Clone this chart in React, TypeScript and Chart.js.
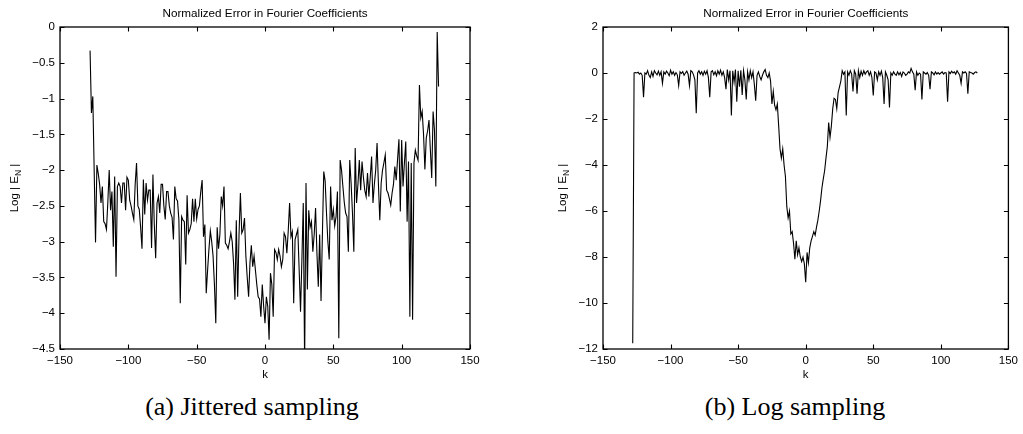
import React, { useEffect, useRef } from "react";
import { Chart, registerables } from "chart.js";
Chart.register(...registerables);

// k runs from K_FIRST to K_LAST (256 Fourier coefficients)
const K_FIRST = -128;
const K_LAST = 127;

// (a) Jittered sampling: log10 |E_N| for k = -128 .. 127
const jitteredError: number[] = [
  -0.33, -1.2, -0.97, -2.0, -3.01, -1.93, -2.05, -2.2, -2.46, -2.23,
  -2.72, -2.75, -2.83, -2.45, -2.0, -2.56, -2.3, -3.07, -2.09, -3.49,
  -2.23, -2.18, -2.23, -2.46, -2.18, -2.18, -2.56, -2.1, -2.14, -2.42,
  -2.5, -2.6, -2.69, -2.2, -1.9, -2.5, -2.55, -2.8, -3.1, -2.13,
  -2.62, -2.18, -2.42, -2.28, -2.28, -3.09, -2.06, -2.76, -3.23, -2.46,
  -2.37, -2.6, -2.2, -2.2, -2.5, -2.69, -2.3, -2.3, -2.5, -2.6,
  -2.66, -2.97, -2.23, -2.4, -2.43, -2.7, -3.86,
  -2.65, -2.7, -2.72, -3.32, -2.35, -2.88, -2.83, -2.75, -2.4, -2.72,
  -2.4, -2.68, -2.55, -2.5, -2.3, -2.14, -2.93, -2.76, -3.72, -3.4,
  -3.1, -2.85, -3.0, -3.2, -3.6, -4.14, -2.8, -3.1, -2.9, -2.37,
  -2.5, -2.23, -3.02, -3.05, -3.1, -3.0, -2.88, -3.0, -3.3, -3.81,
  -2.7, -3.77, -2.9, -2.32, -2.88, -2.83, -2.67, -3.2, -3.5, -3.77,
  -3.3, -3.05, -3.35, -3.2, -3.4, -3.6, -3.77, -3.8, -4.05, -3.6,
  -3.9, -4.14, -3.77, -3.9, -4.37, -3.44, -3.6,
  -4.05, -3.11, -3.15, -3.25, -3.11, -3.2, -3.35, -3.25, -2.88, -2.93,
  -3.16, -2.85, -2.46, -2.93, -2.86, -3.86, -2.97, -2.9, -2.83, -3.4,
  -3.98, -3.25, -2.46, -4.7, -2.18, -3.67, -2.56, -2.8, -2.72, -3.14,
  -2.9, -2.53, -3.16, -3.63, -2.9, -3.83, -2.9, -2.02, -2.15, -2.6,
  -3.0, -3.25, -2.23, -2.7, -2.55, -2.78, -2.65, -2.3, -4.35, -1.86,
  -2.0, -2.23, -2.45, -2.6, -2.65, -3.14, -1.86, -2.18, -2.6, -3.14,
  -1.69, -2.46, -2.2, -1.86, -2.28, -1.88, -2.1, -2.28, -2.37,
  -2.04, -2.37, -2.1, -1.81, -2.46, -2.2, -2.0, -1.62, -2.2, -2.7,
  -2.18, -2.0, -1.9, -1.79, -2.28, -2.32, -2.4, -2.49, -2.32, -2.2,
  -1.95, -2.14, -1.85, -1.57, -2.58, -1.58, -2.23, -1.9, -1.6, -2.72,
  -1.88, -4.05, -1.9, -4.09, -1.9, -1.72, -1.8, -1.86, -0.81, -1.27,
  -1.18, -1.5, -1.99, -1.55, -1.45, -1.3, -1.72, -2.11, -1.18, -1.44,
  -2.23, -0.07, -0.83,
];

// (b) Log sampling: log10 |E_N| for k = -128 .. 127
const logSamplingError: number[] = [
  -11.75, 0.0, 0.02, 0.0, 0.03, -0.05, 0.0, -0.1, -1.05, 0.0,
  -0.05, 0.1, -0.1, -0.2, 0.05, -0.15, 0.1, 0.0, -0.08, 0.08,
  -0.1, 0.05, -0.45, 0.05, -0.05, 0.08, 0.0, -0.12, 0.12, -0.05,
  0.05, -0.1, 0.02, -0.08, -0.55, 0.05, -0.02, 0.06, -0.1, 0.0,
  0.08, -0.05, -0.55, 0.1, 0.05, -0.08, -0.3, -1.75, 0.0, 0.1,
  -0.05, 0.05, -0.1, 0.08, -0.05, 0.1, -0.2, -1.05, 0.05, 0.1,
  -0.08, 0.05, -0.12, 0.1, -0.05, 0.12, -0.1, 0.05, -0.2, -0.7,
  0.15, -0.3, 0.1, -1.85, 0.1, -0.4, 0.15, -1.25, 0.1, -0.6,
  0.12, -0.95, 0.1, -0.3, -1.15, 0.05, -0.3, 0.1, -0.2, 0.05,
  -0.5, -1.2, -0.1, 0.05, -0.15, -0.3, -0.1, 0.05, 0.15, -0.1,
  -0.2, 0.0, -0.35, -1.35, -0.8, -1.4, -1.6, -1.35, -2.3, -3.3,
  -3.7, -3.3, -4.0, -4.5, -5.8, -6.3, -6.0, -7.0, -6.9, -7.4,
  -8.1, -7.3, -7.9, -7.6, -8.0, -8.2, -8.0, -8.3, -9.1, -7.8,
  -8.25, -7.6, -7.3, -7.1, -6.9, -7.05, -6.7, -6.4, -6.0, -5.55,
  -5.0, -4.6, -4.25, -3.7, -3.2, -2.15, -2.8, -2.3, -1.55, -1.1,
  -1.15, -1.55, -0.85, -0.6, -0.35, 0.1, -0.05, 0.05, -1.85, 0.05,
  -0.1, 0.1, -0.05, -0.8, 0.1, -0.05, -0.9, 0.1, -0.2, 0.08,
  -0.1, 0.1, -0.05, 0.05, 0.1, -0.1, 0.05, -0.2, -0.98, 0.05,
  0.0, -0.3, 0.05, -0.1, 0.08, -0.2, -1.35, 0.05, -0.1, -0.3,
  -1.5, 0.0, -0.1, 0.05, -0.05, -0.1, 0.05, -0.08, 0.02, -0.15,
  0.05, 0.0, -0.1, -0.05, 0.05, 0.0, 0.2, 0.05, -0.05, -0.75,
  0.05, -0.1, 0.0, -0.05, -1.15, 0.05, 0.0, -0.05, 0.02, -0.1,
  -0.7, 0.05, 0.0, -0.08, 0.05, -0.05, 0.02, -0.05, 0.0, 0.05,
  -0.05, 0.02, 0.0, -1.25, 0.05, -0.02, 0.08, 0.0, 0.05, -0.05,
  0.1, 0.0, -0.1, -0.45, 0.05, 0.0, 0.05, -0.02, -0.9, 0.05,
  0.02, 0.0, -0.05, 0.02, 0.05, 0.0,
];

const X_TICKS = [-150, -100, -50, 0, 50, 100, 150];
const LEFT_Y_TICKS = [-4.5, -4, -3.5, -3, -2.5, -2, -1.5, -1, -0.5, 0];
const RIGHT_Y_TICKS = [-12, -10, -8, -6, -4, -2, 0, 2];

const TITLE = "Normalized Error in Fourier Coefficients";
const X_LABEL = "k";
const CAPTION_A = "(a) Jittered sampling";
const CAPTION_B = "(b) Log sampling";

const SANS = '"Liberation Sans", Arial, Helvetica, sans-serif';

const kValues: number[] = [];
for (let k = K_FIRST; k <= K_LAST; k++) kValues.push(k);

const fmt = (v: number) => String(v).replace("-", "\u2212");

const matlabFrame = {
  id: "matlabFrame",
  afterDraw(chart: any, _args: any, opts: any) {
    const { ctx, chartArea } = chart;
    const { left, top, right, bottom } = chartArea;
    const xs = chart.scales.x;
    const ys = chart.scales.y;
    ctx.save();
    ctx.strokeStyle = "#000";
    ctx.lineWidth = 1.3;
    ctx.strokeRect(left, top, right - left, bottom - top);
    const tl = 4.5;
    ctx.beginPath();
    for (const v of opts.xTicks) {
      const px = Math.round(xs.getPixelForValue(v)) + 0.5;
      ctx.moveTo(px, bottom);
      ctx.lineTo(px, bottom - tl);
      ctx.moveTo(px, top);
      ctx.lineTo(px, top + tl);
    }
    for (const v of opts.yTicks) {
      const py = Math.round(ys.getPixelForValue(v)) + 0.5;
      ctx.moveTo(left, py);
      ctx.lineTo(left + tl, py);
      ctx.moveTo(right, py);
      ctx.lineTo(right - tl, py);
    }
    ctx.lineWidth = 1.1;
    ctx.stroke();

    ctx.fillStyle = "#000";
    // title
    ctx.font = `11.7px ${SANS}`;
    ctx.textAlign = "center";
    ctx.textBaseline = "middle";
    ctx.fillText(opts.title, (left + right) / 2, 13.5);
    // x label
    ctx.font = `11.5px ${SANS}`;
    ctx.fillText(opts.xLabel, (left + right) / 2, opts.xLabelY);
    // y label: "Log | E_N |" rotated
    const main = `11.5px ${SANS}`;
    const sub = `8.5px ${SANS}`;
    const p1 = "Log | E";
    const p2 = "N";
    const p3 = " |";
    ctx.font = main;
    const w1 = ctx.measureText(p1).width;
    const w3 = ctx.measureText(p3).width;
    ctx.font = sub;
    const w2 = ctx.measureText(p2).width;
    const total = w1 + w2 + w3;
    ctx.translate(opts.yLabelX, (top + bottom) / 2);
    ctx.rotate(-Math.PI / 2);
    ctx.textAlign = "left";
    ctx.textBaseline = "middle";
    let cx = -total / 2;
    ctx.font = main;
    ctx.fillText(p1, cx, 0);
    cx += w1;
    ctx.font = sub;
    ctx.fillText(p2, cx, 3.5);
    cx += w2;
    ctx.font = main;
    ctx.fillText(p3, cx, 0);
    ctx.restore();
  },
};

function buildConfig(
  values: number[],
  yMin: number,
  yMax: number,
  yStep: number,
  yTicks: number[],
  yAxisWidth: number,
  padRight: number,
  yLabelX: number
): any {
  return {
    type: "line",
    data: {
      datasets: [
        {
          data: values.map((v, i) => ({ x: kValues[i], y: v })),
          borderColor: "#000",
          borderWidth: 1.1,
          pointRadius: 0,
          tension: 0,
          fill: false,
        },
      ],
    },
    options: {
      responsive: false,
      animation: false,
      layout: { padding: { top: 27, right: padRight, left: 0, bottom: 0 } },
      plugins: {
        legend: { display: false },
        title: { display: false },
        tooltip: { enabled: false },
        matlabFrame: {
          title: TITLE,
          xLabel: X_LABEL,
          xLabelY: 375,
          yLabelX,
          xTicks: X_TICKS,
          yTicks,
        },
      },
      scales: {
        x: {
          type: "linear",
          min: -150,
          max: 150,
          grid: { display: false, drawTicks: false },
          border: { display: false },
          ticks: {
            stepSize: 50,
            padding: 5,
            color: "#000",
            font: { family: SANS, size: 11.5 },
            maxRotation: 0,
            callback: (v: number) => fmt(v),
          },
          afterFit: (s: any) => {
            s.height = 41;
          },
        },
        y: {
          type: "linear",
          min: yMin,
          max: yMax,
          grid: { display: false, drawTicks: false },
          border: { display: false },
          ticks: {
            stepSize: yStep,
            padding: 5,
            color: "#000",
            font: { family: SANS, size: 11.5 },
            callback: (v: number) => fmt(v),
          },
          afterFit: (s: any) => {
            s.width = yAxisWidth;
          },
        },
      },
    },
    plugins: [matlabFrame],
  };
}

function Panel(props: {
  left: number;
  width: number;
  config: any;
}) {
  const ref = useRef<HTMLCanvasElement | null>(null);
  useEffect(() => {
    if (!ref.current) return;
    const chart = new Chart(ref.current, props.config);
    return () => chart.destroy();
  }, []);
  return (
    <canvas
      ref={ref}
      width={props.width}
      height={390}
      style={{
        position: "absolute",
        left: props.left,
        top: 0,
        width: props.width,
        height: 390,
      }}
    />
  );
}

const captionStyle = (centerX: number): React.CSSProperties => ({
  position: "absolute",
  left: centerX - 200,
  width: 400,
  top: 394,
  textAlign: "center",
  fontFamily: '"Liberation Serif", "Times New Roman", serif',
  fontSize: 26,
  lineHeight: "26px",
  color: "#000",
  whiteSpace: "nowrap",
});

export default function App() {
  const leftCfg = buildConfig(jitteredError, -4.5, 0, 0.5, LEFT_Y_TICKS, 60, 41, 15);
  const rightCfg = buildConfig(logSamplingError, -12, 2, 2, RIGHT_Y_TICKS, 92, 11, 52);
  return (
    <div
      style={{
        position: "absolute",
        left: 0,
        top: 0,
        width: 1023,
        height: 434,
        background: "#fff",
        overflow: "hidden",
      }}
    >
      <Panel left={0} width={511} config={leftCfg} />
      <Panel left={511} width={512} config={rightCfg} />
      <div style={captionStyle(252)}>{CAPTION_A}</div>
      <div style={captionStyle(795)}>{CAPTION_B}</div>
    </div>
  );
}
